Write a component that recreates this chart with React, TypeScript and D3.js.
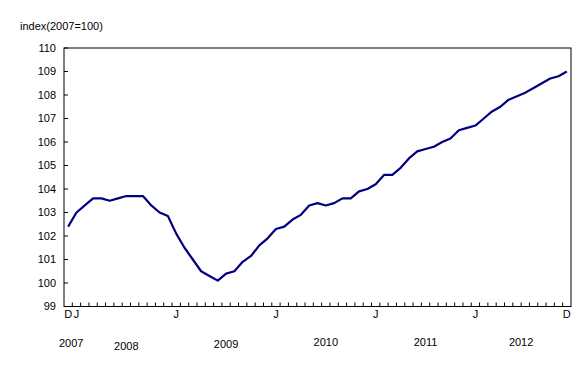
import React from "react";
import * as d3 from "d3";

const months: string[] = (() => {
  const out: string[] = ["2007-12"];
  for (let y = 2008; y <= 2012; y++) for (let m = 1; m <= 12; m++) out.push(`${y}-${String(m).padStart(2, "0")}`);
  return out;
})();

const values: number[] = [
  102.4,
  103.0, 103.3, 103.6, 103.6, 103.5, 103.6, 103.7, 103.7, 103.7, 103.3, 103.0, 102.85,
  102.1, 101.5, 101.0, 100.5, 100.3, 100.1, 100.4, 100.5, 100.9, 101.15, 101.6, 101.9,
  102.3, 102.4, 102.7, 102.9, 103.3, 103.4, 103.3, 103.4, 103.6, 103.6, 103.9, 104.0,
  104.2, 104.6, 104.6, 104.9, 105.3, 105.6, 105.7, 105.8, 106.0, 106.15, 106.5, 106.6,
  106.7, 107.0, 107.3, 107.5, 107.8, 107.95, 108.1, 108.3, 108.5, 108.7, 108.8, 109.0,
];

const monthLabels: { month: string; label: string }[] = [
  { month: "2007-12", label: "D" },
  { month: "2008-01", label: "J" },
  { month: "2009-01", label: "J" },
  { month: "2010-01", label: "J" },
  { month: "2011-01", label: "J" },
  { month: "2012-01", label: "J" },
  { month: "2012-12", label: "D" },
];

const yearLabels: { year: string; month: string }[] = [
  { year: "2007", month: "2007-12" },
  { year: "2008", month: "2008-07" },
  { year: "2009", month: "2009-07" },
  { year: "2010", month: "2010-07" },
  { year: "2011", month: "2011-07" },
  { year: "2012", month: "2012-07" },
];

const yTicks: number[] = d3.range(99, 111);

export default function App() {
  const W = 587, H = 380;
  const left = 64, right = 571, top = 48, bottom = 306.5;
  const x = d3.scaleBand<string>().domain(months).range([left, right]).padding(0);
  const y = d3.scaleLinear().domain([99, 110]).range([bottom, top]);
  const cx = (m: string) => (x(m) as number) + x.bandwidth() / 2;
  const line = d3
    .line<number>()
    .x((_, i) => cx(months[i]))
    .y((v) => y(v));
  const font = "'Liberation Sans', Arial, sans-serif";
  const yearX = (d: { year: string; month: string }) =>
    d.year === "2007" ? cx(d.month) + 3 : d.year === "2012" ? (x(d.month) as number) : cx(d.month);
  const yearY: Record<string, number> = { "2007": 347, "2008": 350, "2009": 348, "2010": 346, "2011": 346, "2012": 346 };
  return (
    <svg width={W} height={H} style={{ position: "absolute", left: 0, top: 0, background: "#fff" }} fontFamily={font} fontSize={11}>
      <text x={20} y={30} fontSize={11}>index(2007=100)</text>
      <rect x={left} y={top} width={right - left} height={bottom - top} fill="none" stroke="#000" strokeWidth={1} />
      {yTicks.map((t) => (
        <g key={t}>
          <line x1={left} x2={left + 4} y1={y(t)} y2={y(t)} stroke="#000" />
          <text x={56} y={y(t)} dy="0.35em" textAnchor="end">{t}</text>
        </g>
      ))}
      {months.slice(1).map((m) => (
        <line key={m} x1={x(m) as number} x2={x(m) as number} y1={bottom} y2={bottom - 4} stroke="#000" />
      ))}
      {monthLabels.map((d) => (
        <text key={d.month + d.label} x={cx(d.month)} y={318} textAnchor="middle">{d.label}</text>
      ))}
      {yearLabels.map((d) => (
        <text key={d.year} x={yearX(d)} y={yearY[d.year]} textAnchor="middle">{d.year}</text>
      ))}
      <path d={line(values) ?? ""} fill="none" stroke="#000080" strokeWidth={2.2} strokeLinejoin="round" />
    </svg>
  );
}
